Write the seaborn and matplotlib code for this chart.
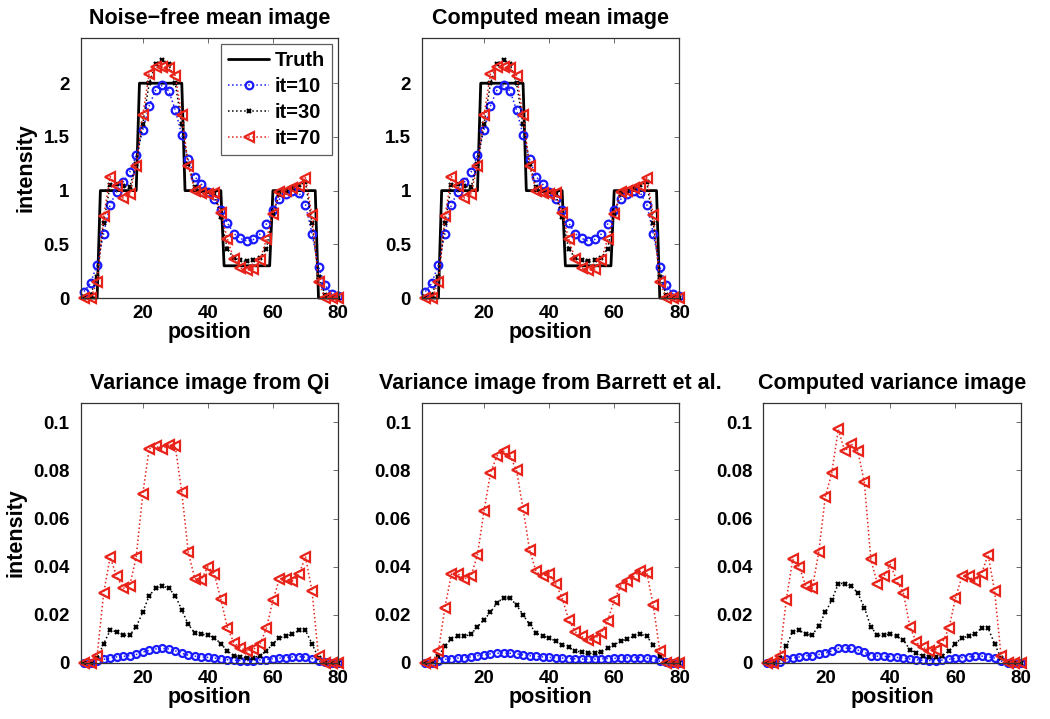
import matplotlib
matplotlib.use("Agg")
import matplotlib.pyplot as plt
import seaborn as sns
from matplotlib.ticker import FormatStrFormatter

# pixel positions sampled every 2
positions = list(range(2, 81, 2))

# noise-free truth profile (breakpoints)
truth_x = [1, 6, 7, 18, 19, 32, 33, 44, 45, 59, 60, 73, 74, 80]
truth_y = [0, 0, 1, 1, 2, 2, 1, 1, 0.3, 0.3, 1, 1, 0, 0]

# mean images (noise-free mean and computed mean look identical)
mean_it10 = [0.06, 0.14, 0.31, 0.60, 0.87, 0.99, 1.08, 1.17, 1.33, 1.56,
             1.79, 1.94, 1.98, 1.93, 1.75, 1.52, 1.29, 1.13, 1.06, 0.99,
             0.92, 0.82, 0.70, 0.60, 0.555, 0.53, 0.545, 0.595, 0.69, 0.82,
             0.92, 0.97, 1.00, 0.98, 0.87, 0.60, 0.29, 0.12, 0.04, 0.02]
mean_it30 = [0.01, 0.03, 0.20, 0.70, 1.05, 1.06, 1.04, 1.03, 1.25, 1.62,
             2.00, 2.18, 2.22, 2.18, 2.00, 1.62, 1.25, 1.03, 1.00, 0.99,
             0.97, 0.75, 0.46, 0.37, 0.35, 0.34, 0.35, 0.37, 0.46, 0.78,
             0.97, 1.00, 1.02, 1.05, 1.08, 0.70, 0.20, 0.03, 0.01, 0.00]
mean_it70 = [0.00, 0.00, 0.15, 0.76, 1.13, 1.04, 0.93, 0.97, 1.23, 1.70,
             2.09, 2.15, 2.15, 2.14, 2.07, 1.70, 1.23, 1.00, 0.98, 0.97,
             0.98, 0.79, 0.55, 0.36, 0.28, 0.26, 0.27, 0.35, 0.55, 0.78,
             0.99, 1.00, 1.02, 1.04, 1.12, 0.77, 0.15, 0.00, 0.00, 0.00]

# variance image from Qi
qi_it10 = [0, 0, 0.001, 0.0015, 0.002, 0.0025, 0.0027, 0.003, 0.0035, 0.0045,
           0.0052, 0.0058, 0.006, 0.0058, 0.005, 0.004, 0.0032, 0.0028, 0.0025, 0.0023,
           0.002, 0.0017, 0.0013, 0.0012, 0.001, 0.001, 0.001, 0.0012, 0.0014, 0.0017,
           0.002, 0.0022, 0.0025, 0.0026, 0.0024, 0.0018, 0.0008, 0.0002, 0, 0]
qi_it30 = [0, 0, 0.002, 0.008, 0.0135, 0.013, 0.0115, 0.0115, 0.015, 0.021,
           0.028, 0.031, 0.032, 0.031, 0.028, 0.022, 0.016, 0.0125, 0.012, 0.0115,
           0.0105, 0.008, 0.005, 0.003, 0.0025, 0.0022, 0.0022, 0.003, 0.005, 0.008,
           0.0105, 0.011, 0.012, 0.0135, 0.0135, 0.008, 0.002, 0, 0, 0]
qi_it70 = [0, 0, 0.003, 0.029, 0.044, 0.036, 0.031, 0.032, 0.044, 0.070,
           0.089, 0.090, 0.089, 0.0905, 0.090, 0.071, 0.046, 0.035, 0.0345, 0.040,
           0.037, 0.0265, 0.0147, 0.0084, 0.0063, 0.005, 0.0056, 0.0077, 0.0144, 0.026,
           0.035, 0.035, 0.034, 0.037, 0.044, 0.030, 0.0028, 0, 0, 0]

# variance image from Barrett et al.
barrett_it10 = [0, 0, 0.001, 0.0015, 0.0018, 0.002, 0.0022, 0.0025, 0.003, 0.0033,
                0.0038, 0.004, 0.0042, 0.004, 0.0038, 0.0033, 0.003, 0.0027, 0.0025, 0.0023,
                0.0021, 0.002, 0.0018, 0.0017, 0.0016, 0.0016, 0.0016, 0.0017, 0.0018, 0.0019,
                0.002, 0.0021, 0.0022, 0.0022, 0.002, 0.0015, 0.0007, 0.0002, 0, 0]
barrett_it30 = [0, 0.0005, 0.003, 0.007, 0.010, 0.011, 0.011, 0.012, 0.015, 0.018,
                0.021, 0.025, 0.027, 0.027, 0.024, 0.020, 0.016, 0.0125, 0.011, 0.0105,
                0.009, 0.0075, 0.0065, 0.005, 0.0045, 0.004, 0.004, 0.0045, 0.006, 0.0075,
                0.009, 0.010, 0.011, 0.012, 0.011, 0.0075, 0.003, 0.0005, 0, 0]
barrett_it70 = [0, 0, 0.005, 0.023, 0.037, 0.037, 0.035, 0.036, 0.045, 0.063,
                0.079, 0.086, 0.088, 0.086, 0.080, 0.064, 0.047, 0.038, 0.036, 0.037,
                0.033, 0.027, 0.018, 0.013, 0.011, 0.0095, 0.010, 0.0125, 0.0175, 0.026,
                0.032, 0.034, 0.036, 0.038, 0.0375, 0.024, 0.005, 0, 0, 0]

# computed variance image
comp_it10 = [0, 0, 0.0005, 0.0015, 0.002, 0.0025, 0.003, 0.003, 0.0035, 0.004,
             0.005, 0.006, 0.0062, 0.006, 0.0053, 0.0045, 0.003, 0.0028, 0.0027, 0.0026,
             0.0023, 0.002, 0.0016, 0.0013, 0.0011, 0.001, 0.001, 0.0012, 0.0015, 0.0019,
             0.0022, 0.0025, 0.0027, 0.0028, 0.0026, 0.002, 0.0008, 0, 0, 0]
comp_it30 = [0, 0, 0.002, 0.007, 0.013, 0.0135, 0.012, 0.0115, 0.0155, 0.021,
             0.026, 0.033, 0.033, 0.032, 0.029, 0.023, 0.015, 0.0115, 0.0115, 0.012,
             0.011, 0.0095, 0.0055, 0.004, 0.003, 0.0025, 0.0025, 0.003, 0.005, 0.008,
             0.0105, 0.011, 0.012, 0.0145, 0.0145, 0.008, 0.002, 0, 0, 0]
comp_it70 = [0, 0, 0.003, 0.026, 0.043, 0.040, 0.032, 0.031, 0.046, 0.069,
             0.079, 0.097, 0.088, 0.091, 0.088, 0.075, 0.043, 0.033, 0.036, 0.041,
             0.034, 0.029, 0.015, 0.0085, 0.0065, 0.005, 0.0055, 0.0085, 0.0145, 0.027,
             0.036, 0.036, 0.034, 0.037, 0.045, 0.030, 0.003, 0, 0, 0]

BLUE = "#1a1aff"
RED = "#e8231a"
LABEL_SIZE = 15.5


def draw_iterations(ax, it10, it30, it70, big=True):
    ms_o = 5.5 if big else 5
    sns.lineplot(x=positions, y=it10, ax=ax, color=BLUE, linestyle=":", lw=1.1,
                 marker="o", ms=ms_o, mfc="none", mec=BLUE, mew=1.6,
                 label="it=10", clip_on=False)
    sns.lineplot(x=positions, y=it30, ax=ax, color="black", linestyle=":", lw=1.1,
                 marker="x", ms=3.5, mec="black", mew=1.6,
                 label="it=30", clip_on=False)
    sns.lineplot(x=positions, y=it70, ax=ax, color=RED, linestyle=":", lw=1.1,
                 marker="<", ms=7, mfc="none", mec=RED, mew=1.6,
                 label="it=70", clip_on=False)


def style_axes(ax, title, ylim, yticks, fmt, ylabel=True):
    ax.set_xlim(1, 80)
    ax.set_ylim(*ylim)
    ax.set_xticks([20, 40, 60, 80])
    ax.set_yticks(yticks)
    ax.yaxis.set_major_formatter(FormatStrFormatter(fmt))
    ax.tick_params(direction="in", top=True, right=True, length=3.5, width=0.6,
                   labelsize=13.5, color="#555555", labelcolor="black")
    ax.tick_params(axis="y", pad=8)
    ax.tick_params(axis="x", pad=5)
    for lab in ax.get_xticklabels() + ax.get_yticklabels():
        lab.set_fontweight("bold")
    for sp in ax.spines.values():
        sp.set_color("#333333")
        sp.set_linewidth(0.9)
    ax.set_title(title, fontsize=LABEL_SIZE, fontweight="bold", pad=10, color="black")
    ax.set_xlabel("position", fontsize=LABEL_SIZE, fontweight="bold", labelpad=0,
                  color="black")
    if ylabel:
        ax.set_ylabel("intensity", fontsize=LABEL_SIZE, fontweight="bold", labelpad=5,
                      color="black")
    else:
        ax.set_ylabel("")


sns.set_style("white")
plt.rcParams["font.family"] = ["Liberation Sans", "DejaVu Sans"]
plt.rcParams["text.color"] = "black"

fig, axes = plt.subplots(2, 3, figsize=(10.5, 7.19), dpi=100)
plt.subplots_adjust(left=0.077, right=0.972, top=0.947, bottom=0.078,
                    wspace=0.327, hspace=0.404)
axes[0, 2].remove()

top_ticks = [0, 0.5, 1, 1.5, 2]
top_lim = (0, 2.42)

for ax, title, show_leg in [(axes[0, 0], "Noise\u2212free mean image", True),
                            (axes[0, 1], "Computed mean image", False)]:
    sns.lineplot(x=truth_x, y=truth_y, ax=ax, color="black", lw=2,
                 label="Truth", clip_on=False, sort=False)
    draw_iterations(ax, mean_it10, mean_it30, mean_it70)
    style_axes(ax, title, top_lim, top_ticks, "%g", ylabel=(ax is axes[0, 0]))
    if show_leg:
        leg = ax.legend(loc="upper right", fontsize=14.5, frameon=True, fancybox=False,
                        handlelength=2.0, borderaxespad=0.3, labelspacing=0.35,
                        handletextpad=0.3, borderpad=0.35)
        leg.get_frame().set_edgecolor("#333333")
        leg.get_frame().set_linewidth(0.9)
        for t in leg.get_texts():
            t.set_fontweight("bold")
            t.set_color("black")
    else:
        ax.get_legend().remove()

var_sets = [
    (axes[1, 0], "Variance image from Qi", qi_it10, qi_it30, qi_it70),
    (axes[1, 1], "Variance image from Barrett et al.", barrett_it10, barrett_it30, barrett_it70),
    (axes[1, 2], "Computed variance image", comp_it10, comp_it30, comp_it70),
]
for ax, title, a, b, c in var_sets:
    draw_iterations(ax, a, b, c, big=False)
    ax.get_legend().remove()
    style_axes(ax, title, (0, 0.108), [0, 0.02, 0.04, 0.06, 0.08, 0.1], "%g",
               ylabel=(ax is axes[1, 0]))

fig.savefig("out.png", dpi=100)
